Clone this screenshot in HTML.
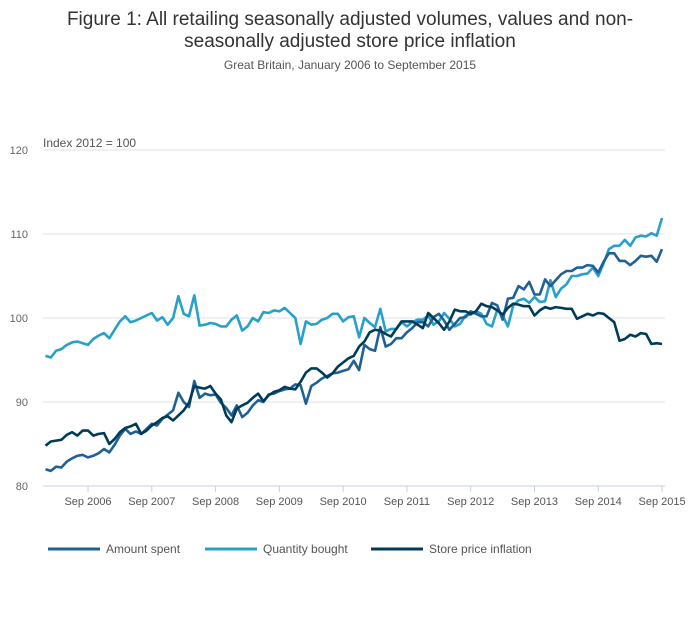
<!DOCTYPE html>
<html><head><meta charset="utf-8"><style>
body{margin:0;background:#fff;font-family:"Liberation Sans",sans-serif;}
</style></head><body>
<svg width="700" height="635" id="c" font-family="Liberation Sans, sans-serif">
<text x="350" y="25" text-anchor="middle" font-size="19" fill="#333">Figure 1: All retailing seasonally adjusted volumes, values and non-</text>
<text x="350" y="47" text-anchor="middle" font-size="19" fill="#333">seasonally adjusted store price inflation</text>
<text x="350" y="69" text-anchor="middle" font-size="12" fill="#555">Great Britain, January 2006 to September 2015</text>
<text x="43" y="147" font-size="12" fill="#555">Index 2012 = 100</text>
<g id="grid"></g><g id="xax"></g><g id="lines"></g>
<g>
<line x1="48" y1="549" x2="100" y2="549" stroke="#206095" stroke-width="3"/><text x="106" y="553" font-size="12" fill="#555">Amount spent</text>
<line x1="205" y1="549" x2="257" y2="549" stroke="#27a0cc" stroke-width="3"/><text x="263" y="553" font-size="12" fill="#555">Quantity bought</text>
<line x1="371" y1="549" x2="423" y2="549" stroke="#003c57" stroke-width="3"/><text x="429" y="553" font-size="12" fill="#555">Store price inflation</text>
</g>
</svg>
<script>
const yTicks=[80,90,100,110,120];
const xTickLabels=["Sep 2006","Sep 2007","Sep 2008","Sep 2009","Sep 2010","Sep 2011","Sep 2012","Sep 2013","Sep 2014","Sep 2015"];
const xTickIndex=[8,20,32,44,56,68,80,92,104,116];
const quantity=[95.5,95.3,96.1,96.3,96.8,97.1,97.2,97.0,96.8,97.5,97.9,98.2,
97.6,98.6,99.6,100.2,99.5,99.7,100.0,100.3,100.6,99.7,100.1,99.2,
100.0,102.6,100.5,100.2,102.7,99.1,99.2,99.4,99.3,99.0,99.0,99.8,
100.3,98.5,99.0,100.0,99.6,100.7,100.6,100.9,100.8,101.2,100.6,100.0,
96.9,99.6,99.2,99.3,99.8,100.0,100.5,100.5,99.6,100.1,100.2,97.7,
100.0,99.4,98.9,101.1,98.4,98.7,98.7,99.5,99.0,99.5,99.8,99.8,
100.3,99.2,99.6,100.6,99.9,99.0,99.3,100.3,100.4,100.8,100.5,99.3,
99.0,101.0,100.3,99.0,101.5,102.1,102.3,101.8,102.5,101.9,102.0,104.5,
102.5,103.5,104.0,105.0,105.0,105.2,105.3,106.0,105.0,106.5,108.2,108.6,
108.6,109.3,108.6,109.6,109.8,109.7,110.1,109.8,111.9];
const amount=[82.0,81.8,82.3,82.2,82.9,83.3,83.6,83.7,83.4,83.6,83.9,84.4,
84.0,84.9,86.0,86.8,86.2,86.5,86.2,86.8,87.4,87.2,88.0,88.5,
89.0,91.1,90.0,89.4,92.5,90.5,91.0,90.8,90.9,89.9,89.3,88.4,
89.6,88.2,88.7,89.6,90.2,90.0,90.9,91.0,91.3,91.5,91.6,92.1,
92.0,89.8,91.9,92.3,92.8,93.1,93.4,93.5,93.7,93.9,94.9,93.8,
96.8,96.3,96.1,98.9,96.6,96.9,97.6,97.6,98.3,98.8,99.5,99.5,
99.0,100.1,100.5,99.7,98.6,99.3,100.0,100.1,100.8,100.5,100.2,100.2,
101.8,101.5,99.8,102.3,102.4,103.8,103.4,104.3,102.8,102.8,104.6,103.8,
104.5,105.2,105.6,105.6,106.0,106.0,106.3,106.2,105.4,106.7,107.7,107.7,
106.8,106.8,106.3,106.8,107.4,107.3,107.4,106.7,108.2];
const price=[84.8,85.3,85.4,85.5,86.1,86.4,86.0,86.6,86.6,86.0,86.2,86.3,
85.0,85.6,86.4,86.9,87.1,87.4,86.2,86.6,87.2,87.6,88.1,88.3,
87.8,88.4,89.0,89.9,91.9,91.7,91.6,91.9,91.0,90.3,88.4,87.6,
89.2,89.6,89.9,90.5,91.0,90.1,90.8,91.2,91.4,91.8,91.6,91.5,
92.4,93.5,94.0,94.0,93.5,92.9,93.4,94.2,94.7,95.2,95.5,96.6,
97.2,98.3,98.6,98.5,98.1,97.8,98.7,99.6,99.6,99.6,99.2,98.8,
100.6,100.0,99.4,98.6,99.6,101.0,100.8,100.8,100.5,100.8,101.7,101.4,
101.3,100.9,100.4,101.2,101.7,101.6,101.4,101.4,100.3,100.9,101.3,101.1,
101.3,101.2,101.1,101.1,99.9,100.2,100.5,100.3,100.6,100.5,100.0,99.5,
97.3,97.5,98.0,97.8,98.2,98.1,96.9,97.0,96.9];
const NS="http://www.w3.org/2000/svg";
const X0=45.5,DX=5.315,Y0=486,YS=8.4;
const xs=i=>X0+i*DX, ys=v=>Y0-(v-80)*YS;
function mk(tag,attrs,parent){const e=document.createElementNS(NS,tag);for(const k in attrs)e.setAttribute(k,attrs[k]);parent.appendChild(e);return e;}
const grid=document.getElementById('grid');
yTicks.forEach(t=>{
  if(t>80){const l=mk('line',{x1:43,x2:665,y1:ys(t),y2:ys(t),stroke:'#e0e0e0','stroke-width':1},grid);
  
  }
  const tx=mk('text',{x:28,y:ys(t)+4,'text-anchor':'end','font-size':11,fill:'#666'},grid);tx.textContent=t;
  
  
});
const xax=document.getElementById('xax');
const ax=mk('line',{x1:43,x2:665,y1:486,y2:486,stroke:'#c8d0e0','stroke-width':1},xax);


xTickIndex.forEach((idx,k)=>{
  const x=xs(idx);
  mk('line',{x1:x,x2:x,y1:486,y2:492,stroke:'#c8d0e0'},xax);
  const t=mk('text',{x:x,y:505,'text-anchor':'middle','font-size':11,fill:'#555'},xax);t.textContent=xTickLabels[k];
  
  
});
const lines=document.getElementById('lines');
[[quantity,'#27a0cc','quantity-bought-line'],[amount,'#206095','amount-spent-line'],[price,'#003c57','store-price-inflation-line']].forEach(([d,c,n])=>{
  const p=mk('polyline',{points:d.map((v,i)=>xs(i).toFixed(1)+','+ys(v).toFixed(1)).join(' '),fill:'none',stroke:c,'stroke-width':2.6,'stroke-linejoin':'round'},lines);
  
  
});
</script>
</body></html>
